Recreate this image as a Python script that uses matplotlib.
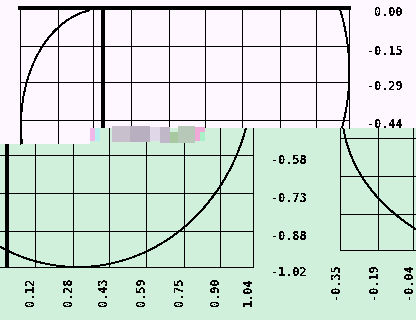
import matplotlib
matplotlib.use("Agg")
import matplotlib.pyplot as plt
from matplotlib.patches import Ellipse, Rectangle
from matplotlib.transforms import ScaledTranslation

# ---------------- data ----------------
x_ticks = [-0.35, -0.19, -0.04, 0.12, 0.28, 0.43, 0.59, 0.75, 0.90, 1.04]
x_tick_labels = ["-0.35", "-0.19", "-0.04", "0.12", "0.28", "0.43", "0.59", "0.75", "0.90", "1.04"]
y_ticks = [0.00, -0.15, -0.29, -0.44, -0.58, -0.73, -0.88, -1.02]
y_tick_labels = ["0.00", "-0.15", "-0.29", "-0.44", "-0.58", "-0.73", "-0.88", "-1.02"]
x_limits = (-0.35, 1.04)
y_limits = (-1.02, 0.0)

# ellipse outlines (center x, center y, width, height) in data units
curve_main = (0.30, -0.252, 1.483, 1.536)
curve_topleft = (-0.004, -0.461, 0.684, 0.914)
curve_right = (0.512, -0.469, 1.707, 1.213)

# ---------------- style ----------------
W, H = 416, 320
BG = "#FFF7FF"
GREEN = "#D0F0DC"
plt.rcParams["font.family"] = ["DejaVu Sans Mono"]
plt.rcParams["font.weight"] = "bold"
plt.rcParams["font.size"] = 8.5
plt.rcParams["lines.antialiased"] = False
plt.rcParams["patch.antialiased"] = False
plt.rcParams["text.antialiased"] = False

fig = plt.figure(figsize=(W / 100, H / 100), dpi=100, facecolor=BG)


def px_rect(L, T, R, B):
    return [L / W, 1 - B / H, (R - L) / W, (B - T) / H]


def fig_rect(L, T, R, B, color, z):
    r = Rectangle((L / W, 1 - B / H), (R - L) / W, (B - T) / H,
                  transform=fig.transFigure, facecolor=color, edgecolor="none", zorder=z)
    fig.add_artist(r)


def tile(view, virt, face, spines, curve, xlab=False, ylab=False, xpad=7.2, zord=0):
    L, T, R, B = view
    vL, vT, vR, vB = virt
    ax = fig.add_axes(px_rect(L, T, R, B), facecolor=face, zorder=zord)
    xr = x_limits[1] - x_limits[0]
    yr = y_limits[1] - y_limits[0]
    fx = lambda p: x_limits[0] + (p - vL) / (vR - vL) * xr
    fy = lambda p: y_limits[1] - (p - vT) / (vB - vT) * yr
    ax.set_xticks(x_ticks, x_tick_labels)
    ax.set_yticks(y_ticks, y_tick_labels)
    ax.yaxis.tick_right()
    ax.tick_params(length=0)
    ax.tick_params(axis="x", labelrotation=90, pad=xpad, labelbottom=xlab)
    ax.tick_params(axis="y", pad=38.9, labelright=ylab)
    ax.grid(True, color="black", linewidth=0.7)
    ax.set_axisbelow(True)
    for s in ["left", "right", "top", "bottom"]:
        ax.spines[s].set_visible(s in spines)
        ax.spines[s].set_color("black")
        ax.spines[s].set_linewidth(1.45 if s == "top" else 0.7)
    ax.axvline(0, color="black", linewidth=1.45, zorder=3)
    cx, cy, w, h = curve
    ax.add_patch(Ellipse((cx, cy), w, h, fill=False, edgecolor="black", linewidth=0.6, zorder=4))
    ax.set_xlim(fx(L), fx(R))
    ax.set_ylim(fy(B), fy(T))
    offx = ScaledTranslation(-0.045, 0, fig.dpi_scale_trans)
    offy = ScaledTranslation(0, -0.035, fig.dpi_scale_trans)
    for lb in ax.get_xticklabels():
        lb.set_transform(lb.get_transform() + offx)
    for lb in ax.get_yticklabels():
        lb.set_ha("right")
        lb.set_transform(lb.get_transform() + offy)
    return ax


# green lower area
fig_rect(90, 128, W, H, GREEN, -1)
fig_rect(0, 144, 90, H, GREEN, -1)

VIRT_TOP = (20, 8, 349, 267)
VIRT_BL = (-76, 8, 253, 267)
VIRT_BR = (340, -9, 669, 250)

# bottom-left (green) tiles
tile((0, 144, 90, 267), VIRT_BL, GREEN, ["bottom"], curve_main, xlab=True, xpad=7.2)
tile((90, 128, 253, 267), VIRT_BL, GREEN, ["bottom", "right"], curve_main, xlab=True, ylab=True, xpad=7.2)
# bottom-right (green) tile
tile((340, 128, 420, 250), VIRT_BR, GREEN, ["left", "bottom"], curve_right, xlab=True, xpad=9.4)
# top tiles (white)
tile((20, 8, 90, 144), VIRT_TOP, BG, ["left", "top"], curve_topleft, zord=1)
tile((90, 8, 349, 128), VIRT_TOP, BG, ["top", "right"], curve_main, ylab=True, zord=1)

# corrupted strip
glitch = [
    (90, 128, 95, 141, "#F0B8E8"), (95, 128, 100, 141, "#B8F0F0"),
    (112, 126, 130, 142, "#C8C0CC"), (130, 126, 150, 142, "#B8B0C0"),
    (150, 127, 160, 141, "#E0D8E8"), (160, 127, 170, 143, "#C0B8C8"),
    (170, 132, 178, 143, "#A8C8A0"), (178, 126, 195, 143, "#B8C8B8"),
    (195, 127, 205, 141, "#F0A8D8"), (200, 132, 205, 141, "#A8F0C8"),
]
for L, T, R, B, c in glitch:
    fig_rect(L, T, R, B, c, 5)

fig.savefig("out.png", dpi=100, facecolor=BG)
